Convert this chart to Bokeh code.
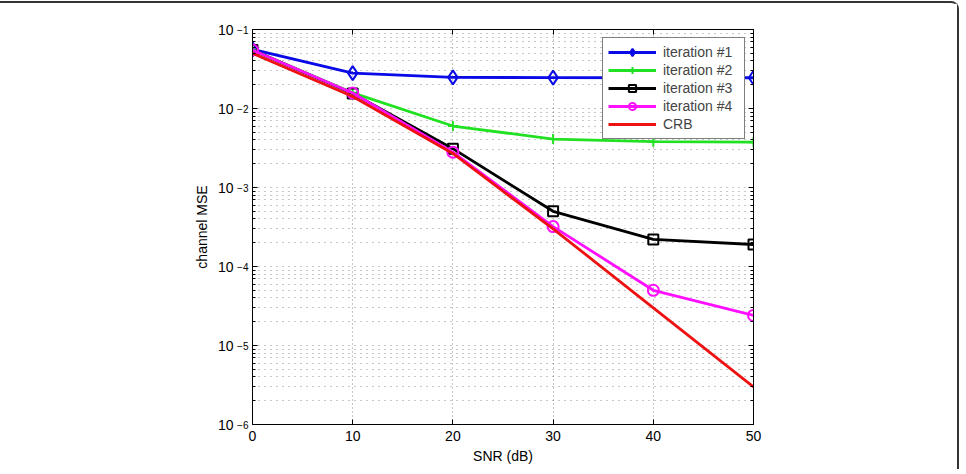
from bokeh.plotting import figure
from bokeh.models import (Range1d, FixedTicker, LinearAxis, LogAxis, Legend, LegendItem)
from bokeh.embed import file_html
from bokeh.resources import INLINE

snr = [0, 10, 20, 30, 40, 50]
it1 = [0.056, 0.028, 0.0248, 0.0246, 0.0245, 0.0245]
it2 = [0.055, 0.0158, 0.006, 0.0041, 0.0038, 0.00375]
it3 = [0.055, 0.0155, 0.0031, 0.0005, 0.00022, 0.00019]
it4 = [0.055, 0.0157, 0.0028, 0.00032, 0.00005, 0.000024]
crb = [0.05, 0.0142, 0.0027, 0.0003, 0.00003, 0.000003]

x_ticks = [0, 10, 20, 30, 40, 50]
y_ticks = [1e-6, 1e-5, 1e-4, 1e-3, 1e-2, 1e-1]
y_tick_base = "10"
y_tick_exps = ["−6", "−5", "−4", "−3", "−2", "−1"]
y_minor = [m * t for t in y_ticks[:-1] for m in range(2, 10)]

FONT = "Liberation Sans"

p = figure(width=959, height=468, output_backend="svg", toolbar_location=None,
           x_range=Range1d(0, 50), y_range=Range1d(1e-6, 1e-1), y_axis_type="log",
           min_border_left=252, min_border_right=206, min_border_top=26, min_border_bottom=47)
p.styles = {"margin-top": "1px", "border-top": "2px solid #333333",
            "border-right": "2px solid #333333", "border-top-right-radius": "8px"}
p.background_fill_color = "white"
p.border_fill_color = "white"
p.outline_line_color = "black"
p.outline_line_width = 1

def style_axis(ax):
    ax.axis_line_color = "black"
    ax.major_tick_in = 5
    ax.major_tick_out = 0
    ax.minor_tick_in = 3
    ax.minor_tick_out = 0
    ax.major_tick_line_color = "black"
    ax.minor_tick_line_color = "black"
    ax.major_label_text_font = FONT
    ax.major_label_text_font_size = "14px"
    ax.major_label_text_color = "black"
    ax.axis_label_text_font = FONT
    ax.axis_label_text_font_size = "14px"
    ax.axis_label_text_font_style = "normal"
    ax.axis_label_text_color = "black"

xt = FixedTicker(ticks=x_ticks, minor_ticks=[])
yt = FixedTicker(ticks=y_ticks, minor_ticks=y_minor)

p.xaxis.ticker = xt
style_axis(p.xaxis[0])
p.xaxis.axis_label = "SNR (dB)"
p.xaxis.major_label_standoff = 6
p.xaxis.axis_label_standoff = 4

# inner left axis: exponents (superscripts) with the ticks
inner = p.yaxis[0]
inner.ticker = yt
style_axis(inner)
inner.major_label_overrides = {t: e for t, e in zip(y_ticks, y_tick_exps)}
inner.major_label_text_font_size = "10px"
inner.major_label_text_baseline = "bottom"
inner.major_label_standoff = 4

# outer left axis: the base "10" and the axis title
outer = LogAxis(ticker=yt)
style_axis(outer)
outer.major_label_overrides = {t: y_tick_base for t in y_ticks}
outer.major_tick_in = 0
outer.minor_tick_in = 0
outer.axis_line_color = None
outer.major_label_standoff = 1
outer.axis_label = "channel MSE"
outer.axis_label_standoff = 5
p.add_layout(outer, "left")

top = LinearAxis(ticker=xt, major_label_overrides={t: "" for t in x_ticks})
style_axis(top)
p.add_layout(top, "above")
right = LogAxis(ticker=yt, major_label_overrides={t: "" for t in y_ticks})
style_axis(right)
p.add_layout(right, "right")

for g in (p.xgrid[0], p.ygrid[0]):
    g.grid_line_color = "#333333"
    g.grid_line_dash = "1 5"
    g.grid_line_width = 1
    g.grid_line_alpha = 0.55
p.ygrid.minor_grid_line_color = "#333333"
p.ygrid.minor_grid_line_dash = "1 5"
p.ygrid.minor_grid_line_alpha = 0.55
p.xgrid.grid_line_dash = "1 3"
p.xgrid.ticker = xt
p.ygrid.ticker = yt

LW = 2.8
blue, green, black, mag, red = "#0a0ae6", "#22e022", "#000000", "#ff10ff", "#ee1111"

items = []
r = p.line(snr, it1, line_color=blue, line_width=LW)
m = p.scatter(snr, it1, marker="diamond", size=14, line_color=blue, line_width=2, fill_alpha=0)
items.append(LegendItem(label="iteration #1", renderers=[r, m]))
r = p.line(snr, it2, line_color=green, line_width=LW)
m = p.scatter(snr, it2, marker="cross", size=10, line_color=green, line_width=2)
items.append(LegendItem(label="iteration #2", renderers=[r, m]))
r = p.line(snr, it3, line_color=black, line_width=LW)
m = p.scatter(snr, it3, marker="square", size=10, line_color=black, line_width=2, fill_alpha=0)
items.append(LegendItem(label="iteration #3", renderers=[r, m]))
r = p.line(snr, it4, line_color=mag, line_width=LW)
m = p.scatter(snr, it4, marker="circle", size=11, line_color=mag, line_width=2, fill_alpha=0)
items.append(LegendItem(label="iteration #4", renderers=[r, m]))
r = p.line(snr, crb, line_color=red, line_width=LW)
items.append(LegendItem(label="CRB", renderers=[r]))

leg = Legend(items=items, location="top_right", margin=8, padding=5, spacing=0,
             glyph_width=48, glyph_height=18, label_height=18, label_width=76,
             label_standoff=7,
             label_text_font=FONT, label_text_font_size="14px",
             border_line_color="black", border_line_width=1,
             background_fill_color="white", background_fill_alpha=1)
p.add_layout(leg, "center")

open("out.html", "w").write(file_html(p, INLINE))
